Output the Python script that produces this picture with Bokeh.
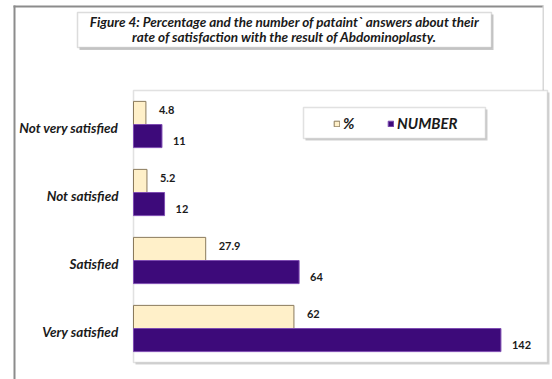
from bokeh.plotting import figure
from bokeh.models import (ColumnDataSource, Range1d, BoxAnnotation, Label,
                          Legend, LegendItem)
from bokeh.transform import dodge
from bokeh.core.properties import value
from bokeh.embed import file_html
from bokeh.resources import INLINE

# Survey answers, listed bottom to top
categories = ["Very satisfied", "Satisfied", "Not satisfied", "Not very satisfied"]
percent = [62, 27.9, 5.2, 4.8]
number = [142, 64, 12, 11]
percent_text = ["62", "27.9", "5.2", "4.8"]
number_text = ["142", "64", "12", "11"]
series_names = ["%", "NUMBER"]
title_lines = [
    "Figure 4: Percentage and the number of pataint` answers about their",
    "rate of satisfaction with the result of Abdominoplasty.",
]

W, H = 552, 379
# plot-area rectangle on the page (pixels from top-left)
PA_L, PA_R, PA_T, PA_B = 133, 547, 90, 362
XMAX = 160

FONT = "Lato"
CREAM = "#FFF0C9"
CREAM_EDGE = "#8a7a5c"
PURPLE = "#3D0A7A"
PURPLE_EDGE = "#7E4CB2"
INK = "#1a1a1a"

rows = list(range(len(categories)))
src = ColumnDataSource(dict(row=rows, cat=categories, pct=percent, num=number,
                            pct_t=percent_text, num_t=number_text))

# Ranges chosen so the value axis 0..XMAX and the category bands fill the
# plot-area rectangle while the frame spans the whole page.
px_per_x = (PA_R - PA_L) / XMAX
px_per_row = (PA_B - PA_T) / len(categories)
x_range = Range1d(-PA_L / px_per_x, (W - PA_L) / px_per_x)
y_range = Range1d(-0.5 - (H - PA_B) / px_per_row,
                  len(categories) - 0.5 + PA_T / px_per_row)

p = figure(width=W, height=H, x_range=x_range, y_range=y_range,
           x_axis_location=None, y_axis_location=None,
           output_backend="svg", toolbar_location=None, min_border=0)
p.grid.visible = False
p.outline_line_color = None
p.background_fill_color = "white"


def box(l, r, t, b, level="underlay", **kw):
    p.add_layout(BoxAnnotation(left=l, right=r, top=t, bottom=b,
                               left_units="canvas", right_units="canvas",
                               top_units="canvas", bottom_units="canvas",
                               level=level, **kw))


# Page frame lines
box(13, 15, 5, H, fill_color="#8c8c8c", fill_alpha=1, line_color=None)
box(13, 543, 5, 7, fill_color="#8c8c8c", fill_alpha=1, line_color=None)
box(542, 543.5, 5, PA_T, fill_color="#d8d8d8", fill_alpha=1, line_color=None)

# Title box with a soft shadow
box(79, 493, 14, 49.5, fill_color="#c8c8c8", fill_alpha=1, line_color=None)
box(77, 491, 12, 47, fill_color="white", fill_alpha=1,
    line_color="#8a8a8a", line_width=1.5)
for i, line in enumerate(title_lines):
    p.add_layout(Label(x=284, y=21 + 15 * i, x_units="canvas", y_units="canvas",
                       text=line, text_align="center", text_baseline="middle",
                       text_font=FONT, text_font_style="bold italic",
                       text_font_size="13.5px", text_color=INK))

# Plot area with shadow
box(PA_L + 2, PA_R + 2, PA_T + 2, PA_B + 2, fill_color="#d4d4d4", fill_alpha=1,
    line_color=None)
box(PA_L, PA_R, PA_T, PA_B, fill_color="white", fill_alpha=1,
    line_color="#9a9a9a", line_width=1.5)

# Legend box
box(305, 487, 109, 140, fill_color="#d0d0d0", fill_alpha=1, line_color=None)
box(303, 485, 107, 138, fill_color="white", fill_alpha=1,
    line_color="#9a9a9a", line_width=1.5)

# Grouped horizontal bars
r_pct = p.hbar(y=dodge("row", 0.17), left=0, right="pct", height=0.34,
               fill_color=CREAM, line_color=CREAM_EDGE, line_width=1, source=src)
r_num = p.hbar(y=dodge("row", -0.17), left=0, right="num", height=0.34,
               fill_color=PURPLE, line_color=PURPLE_EDGE, line_width=1, source=src)

# Category names left of the bars
p.text(x=0, y="row", text="cat", x_offset=-15, y_offset=3, source=src,
       text_font=value(FONT), text_font_style="bold italic",
       text_font_size="13.5px", text_color=INK,
       text_align="right", text_baseline="middle")

# Value labels beside each bar
lbl = dict(text_font=value(FONT), text_font_style="bold", text_font_size="11px",
           text_color=INK, text_baseline="middle", text_align="left")
p.text(x="pct", y=dodge("row", 0.17), text="pct_t",
       x_offset=13, y_offset=-3, source=src, **lbl)
p.text(x="num", y=dodge("row", -0.17), text="num_t",
       x_offset=11, y_offset=5, source=src, **lbl)

legend = Legend(items=[LegendItem(label=series_names[0], renderers=[r_pct]),
                       LegendItem(label=series_names[1], renderers=[r_num])],
                orientation="horizontal", location=(333, 247),
                border_line_color=None, background_fill_alpha=0,
                glyph_width=7, glyph_height=7, label_standoff=3,
                spacing=24, padding=0, margin=0,
                label_text_font=FONT, label_text_font_style="bold italic",
                label_text_font_size="15px", label_text_color=INK)
p.add_layout(legend, "center")

open("out.html", "w").write(file_html(p, INLINE))
